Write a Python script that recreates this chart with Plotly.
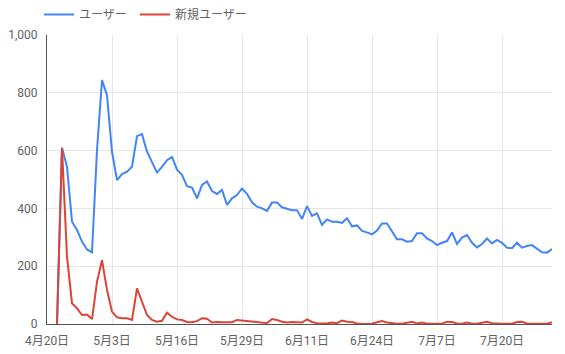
import pandas as pd
import plotly.graph_objects as go

start_date = "2020-04-22"
users = [0, 610, 544, 354, 325, 285, 258, 248, 602, 844, 792, 596, 498, 519, 527, 544,
         650, 657, 596, 562, 524, 544, 567, 578, 534, 516, 477, 472, 435, 481, 493, 460,
         450, 464, 412, 435, 446, 469, 450, 421, 406, 400, 391, 420, 420, 404, 398, 394,
         394, 363, 408, 374, 383, 343, 362, 354, 354, 350, 366, 338, 341, 322, 317, 310,
         323, 348, 348, 319, 293, 293, 285, 287, 314, 314, 296, 287, 273, 281, 287, 317,
         277, 299, 308, 281, 265, 277, 296, 279, 291, 281, 264, 262, 281, 264, 270, 273,
         262, 248, 247, 259]
new_users = [0, 610, 233, 72, 54, 31, 33, 17, 146, 221, 118, 43, 23, 20, 20, 14,
             123, 77, 31, 14, 8, 11, 39, 25, 16, 14, 7, 6, 10, 20, 18, 5,
             7, 6, 6, 6, 14, 12, 10, 7, 6, 5, 3, 17, 14, 8, 5, 7,
             6, 5, 16, 7, 3, 2, 2, 5, 3, 12, 8, 7, 2, 0, 0, 1,
             6, 10, 5, 2, 1, 1, 5, 8, 2, 5, 1, 1, 2, 1, 8, 7,
             2, 1, 5, 1, 1, 5, 8, 3, 1, 1, 1, 1, 7, 8, 2, 1,
             0, 1, 1, 6]
tick_dates = ["2020-04-20", "2020-05-03", "2020-05-16", "2020-05-29",
              "2020-06-11", "2020-06-24", "2020-07-07", "2020-07-20"]
tick_labels = ["4月20日", "5月3日", "5月16日", "5月29日",
               "6月11日", "6月24日", "7月7日", "7月20日"]
y_ticks = [0, 200, 400, 600, 800, 1000]
series_names = ["ユーザー", "新規ユーザー"]

dates = pd.date_range(start_date, periods=len(users), freq="D")

fig = go.Figure()
fig.add_trace(go.Scatter(x=dates, y=users, mode="lines", name=series_names[0],
                         line=dict(color="#4285F4", width=2), legend="legend"))
fig.add_trace(go.Scatter(x=dates, y=new_users, mode="lines", name=series_names[1],
                         line=dict(color="#DB4437", width=2), legend="legend2"))

legend_style = dict(orientation="h", xref="container", yref="container",
                    xanchor="left", y=1.0, yanchor="top",
                    font=dict(size=12, color="#616161"), bgcolor="rgba(0,0,0,0)",
                    itemwidth=30)

fig.update_layout(
    template="none",
    width=565, height=354,
    margin=dict(l=47, r=13, t=35, b=30, autoexpand=False),
    paper_bgcolor="white", plot_bgcolor="white",
    font=dict(family="Roboto, 'Noto Sans CJK JP', sans-serif", size=12, color="#616161"),
    showlegend=True,
    legend=dict(x=39 / 565, **legend_style),
    legend2=dict(x=135 / 565, **legend_style),
    xaxis=dict(
        range=["2020-04-20", "2020-07-30"],
        tickvals=tick_dates, ticktext=tick_labels,
        showgrid=True, gridcolor="#e6e6e6", gridwidth=1,
        showline=True, linecolor="#555555", linewidth=1,
        ticks="outside", ticklen=6, tickcolor="rgba(0,0,0,0)",
        zeroline=False, fixedrange=True, automargin=False,
    ),
    yaxis=dict(
        range=[0, 1000], tickvals=y_ticks, tickformat=",d",
        showgrid=True, gridcolor="#e6e6e6", gridwidth=1,
        showline=True, linecolor="#555555", linewidth=1,
        ticks="outside", ticklen=6, tickcolor="rgba(0,0,0,0)",
        zeroline=False, fixedrange=True, automargin=False,
    ),
)

fig.write_html("out.html")
